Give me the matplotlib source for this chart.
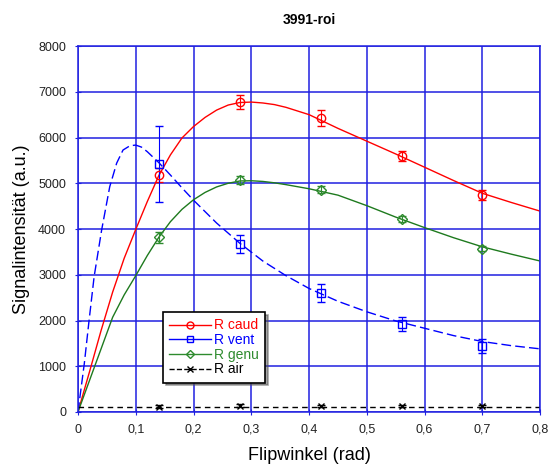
import matplotlib
matplotlib.use("Agg")
import matplotlib.pyplot as plt
from matplotlib.ticker import FuncFormatter

plt.rcParams['font.family'] = ['Liberation Sans', 'DejaVu Sans']

# measured points (flip angle in rad)
x_pts = [0.14, 0.28, 0.42, 0.56, 0.70]
caud = [5180, 6770, 6430, 5600, 4750]
caud_err = [150, 150, 180, 110, 110]
vent = [5430, 3680, 2600, 1930, 1450]
vent_err = [830, 200, 200, 150, 150]
genu = [3820, 5070, 4860, 4220, 3570]
genu_err = [120, 80, 80, 60, 50]
air = [120, 140, 130, 130, 130]
air_err = [40, 30, 30, 25, 30]

# fitted curves
x_fit = [0, 0.02, 0.04, 0.06, 0.08, 0.10, 0.12, 0.14, 0.16, 0.18, 0.20, 0.22, 0.24,
         0.26, 0.28, 0.30, 0.32, 0.34, 0.36, 0.40, 0.45, 0.50, 0.55, 0.60, 0.65,
         0.70, 0.75, 0.80]
y_caud = [0, 880, 1780, 2620, 3360, 3990, 4600, 5170, 5620, 5990, 6240, 6440, 6600,
          6710, 6765, 6775, 6755, 6720, 6660, 6500, 6200, 5920, 5640, 5350, 5060,
          4780, 4580, 4390]
y_genu = [0, 690, 1380, 2070, 2560, 2980, 3420, 3820, 4160, 4430, 4640, 4800, 4920,
          5000, 5050, 5055, 5040, 5010, 4970, 4880, 4740, 4510, 4260, 4030, 3810,
          3610, 3450, 3300]
x_vent = [0, 0.011, 0.019, 0.028, 0.041, 0.055, 0.067, 0.078, 0.09, 0.10, 0.11, 0.12,
          0.14, 0.16, 0.18, 0.20, 0.24, 0.28, 0.32, 0.36, 0.40, 0.45, 0.50, 0.55,
          0.60, 0.65, 0.70, 0.75, 0.80]
y_vent = [0, 1060, 1975, 2960, 3980, 4925, 5440, 5727, 5820, 5835, 5790, 5690,
          5450, 5180, 4900, 4630, 4130, 3690, 3300, 2980, 2700, 2420, 2190, 1990,
          1830, 1670, 1540, 1450, 1380]
x_air = [0, 0.8]
y_air = [110, 110]

fig = plt.figure(figsize=(5.49, 4.65), dpi=100)
ax = fig.add_axes([0.142, 0.114, 0.842, 0.787])

# curves
ax.plot(x_fit, y_caud, '-', color='red', lw=1)
ax.plot(x_vent, y_vent, color='blue', lw=1, dashes=(7, 3))
ax.plot(x_fit, y_genu, '-', color='#1e7a1e', lw=1)
ax.plot(x_air, y_air, '--', color='black', lw=1, dashes=(4, 3))

# points with error bars
ax.errorbar(x_pts, caud, yerr=caud_err, fmt='o', color='red', mfc='none', ms=6,
            capsize=3, elinewidth=0.8)
ax.errorbar(x_pts, vent, yerr=vent_err, fmt='s', color='blue', mfc='none', ms=6,
            capsize=3, elinewidth=0.8)
ax.errorbar(x_pts, genu, yerr=genu_err, fmt='D', color='#2e8b2e', mfc='none', ms=5,
            capsize=3, elinewidth=0.8)
ax.errorbar(x_pts, air, yerr=air_err, fmt='x', color='black', ms=5,
            capsize=3, elinewidth=0.8)

# legend handles
h1, = ax.plot([], [], '-o', color='red', mfc='none', ms=5, lw=1)
h2, = ax.plot([], [], '-s', color='blue', mfc='none', ms=5, lw=1)
h3, = ax.plot([], [], '-D', color='#2e8b2e', mfc='none', ms=4.5, lw=1)
h4, = ax.plot([], [], '--x', color='black', ms=5, lw=1)
leg = ax.legend([h1, h2, h3, h4], ['R caud', 'R vent', 'R genu', 'R air'],
                loc='lower left', bbox_to_anchor=(0.184, 0.08), borderaxespad=0,
                fontsize=10, fancybox=False, shadow=True, edgecolor='black',
                framealpha=1, handlelength=3.0, handletextpad=0.2, borderpad=0.45,
                labelspacing=0.05)
leg.get_frame().set_linewidth(1.2)
for t, c in zip(leg.get_texts(), ['red', 'blue', '#2e8b2e', 'black']):
    t.set_color(c)

ax.set_xlim(0, 0.8)
ax.set_ylim(0, 8000)
ax.set_xticks([0, 0.1, 0.2, 0.3, 0.4, 0.5, 0.6, 0.7, 0.8])
ax.set_yticks(range(0, 8001, 1000))
ax.xaxis.set_major_formatter(FuncFormatter(lambda v, p: ('%g' % round(v, 2)).replace('.', ',')))
ax.grid(True, color='#2020e0', lw=1.1)
ax.set_axisbelow(True)
for s in ax.spines.values():
    s.set_color('#2020e0')
    s.set_linewidth(1.1)
ax.tick_params(colors='#2020e0', labelcolor='#222222', labelsize=9, direction='inout',
               length=5, pad=6)

ax.set_xlabel('Flipwinkel (rad)', fontsize=13, labelpad=8)
ax.set_ylabel('Signalintensität (a.u.)', fontsize=13, labelpad=6)
ax.set_title('3991-roi', fontsize=10, fontweight='bold', pad=16)

fig.savefig('out.png', dpi=100)
